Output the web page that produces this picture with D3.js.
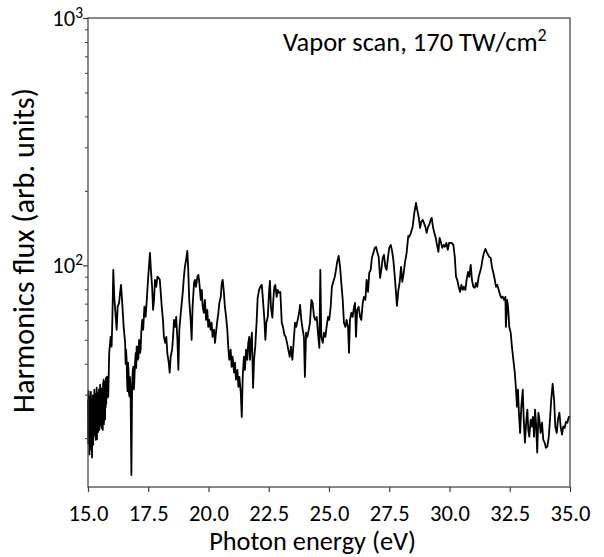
<!DOCTYPE html>
<html>
<head>
<meta charset="utf-8">
<script src="https://cdn.jsdelivr.net/npm/d3@7/dist/d3.min.js"></script>
<style>
  html, body { margin: 0; padding: 0; background: #fff; }
  svg { display: block; }
  text { font-family: Carlito, Lato, "Open Sans", sans-serif; fill: #000; }
</style>
</head>
<body>
<svg id="chart" width="604" height="557"></svg>
<script>
// ---------------- data ----------------
const energy = [
15.000,15.012,15.024,15.036,15.048,15.060,15.072,15.084,15.096,15.108,15.120,15.132,15.144,15.156,15.168,15.180,15.192,15.204,15.216,15.228,
15.240,15.252,15.264,15.276,15.288,15.300,15.312,15.324,15.336,15.348,15.360,15.372,15.384,15.396,15.408,15.420,15.432,15.444,15.456,15.468,
15.480,15.492,15.504,15.516,15.528,15.540,15.552,15.564,15.576,15.588,15.600,15.612,15.624,15.636,15.648,15.660,15.672,15.684,15.696,15.708,
15.720,15.732,15.744,15.756,15.768,15.780,15.790,
15.84,15.88,15.94,15.98,16.01,16.05,16.09,16.15,16.19,16.23,16.29,16.33,16.37,16.42,16.48,
16.54,16.56,16.58,16.60,16.62,16.64,16.66,16.68,16.70,16.72,16.74,16.755,16.77,16.80,16.83,16.85,16.88,16.90,16.92,16.95,
16.98,17.00,17.02,17.04,17.06,17.09,17.12,17.14,17.16,17.185,17.21,
17.25,17.29,17.34,17.39,17.44,17.49,17.53,17.57,
17.61,17.66,17.70,17.74,17.78,17.83,17.88,17.93,17.98,18.02,18.06,18.11,18.15,18.20,18.25,18.29,18.35,18.39,18.43,18.49,
18.53,18.57,18.62,18.66,18.71,18.75,18.79,18.85,18.89,18.93,18.98,19.02,19.07,19.12,19.16,19.20,19.26,19.30,19.34,19.40,
19.44,19.48,19.54,19.58,19.62,19.68,19.72,19.76,19.81,19.85,19.90,19.95,19.99,20.03,20.09,20.13,20.17,20.23,20.27,20.31,
20.37,20.41,20.45,20.51,20.55,20.59,20.64,20.68,20.73,20.78,20.82,20.86,20.92,20.96,21.00,21.06,21.10,21.14,21.20,21.24,
21.28,21.34,21.38,21.42,21.47,21.51,21.56,21.61,21.65,21.69,21.72,21.76,21.80,21.85,21.89,21.94,22.00,22.04,22.10,22.15,
22.21,22.26,22.32,22.36,22.40,22.46,22.51,22.55,22.59,22.65,22.69,22.73,22.77,22.83,22.87,22.93,22.98,23.04,23.09,23.15,
23.20,23.26,23.31,23.37,23.42,23.48,23.54,23.59,23.64,23.70,23.76,23.80,23.85,23.91,23.96,24.00,24.05,24.10,24.16,24.21,
24.27,24.32,24.38,24.43,24.49,24.54,24.60,24.64,24.68,24.74,24.79,24.85,24.90,24.96,25.01,25.07,25.12,25.18,25.24,25.29,
25.34,25.40,25.46,25.51,25.57,25.62,25.68,25.73,25.79,25.83,25.87,25.93,25.98,26.04,26.08,26.12,26.17,26.23,26.29,26.34,
26.40,26.45,26.51,26.56,26.62,26.67,26.73,26.78,26.84,26.90,26.95,27.00,27.06,27.12,27.17,27.23,27.28,27.34,27.39,27.45,
27.50,27.56,27.61,27.67,27.73,27.78,27.82,27.88,27.93,27.99,28.04,28.10,28.15,28.22,28.29,28.33,28.40,28.47,28.54,28.61,
28.66,28.72,28.78,28.83,28.89,28.94,29.00,29.05,29.11,29.16,29.22,29.26,29.32,29.37,29.43,29.48,29.54,29.59,29.65,29.70,
29.76,29.81,29.87,29.93,29.98,30.03,30.09,30.16,30.22,30.27,30.32,30.38,30.44,30.49,30.55,30.60,30.66,30.71,30.77,30.82,
30.88,30.93,30.99,31.05,31.10,31.15,31.21,31.27,31.32,31.38,31.43,31.49,31.54,31.60,31.65,31.71,31.76,31.82,31.88,31.93,
31.98,32.04,32.10,32.15,32.21,32.26,32.32,32.34,32.39,32.43,32.48,32.54,32.59,32.65,32.71,32.76,32.80,32.84,32.88,32.93,
32.98,33.04,33.08,33.13,33.19,33.23,33.27,33.31,33.37,33.42,33.46,33.51,33.55,33.59,33.64,33.69,33.73,33.78,33.84,33.89,
33.95,34.00,34.06,34.12,34.17,34.22,34.28,34.34,34.39,34.45,34.50,34.56,34.61,34.67,34.72,34.78,34.83,34.89,34.95,35.00
];
const flux = [
28.6,19.0,31.0,21.5,27.0,17.2,29.5,20.0,26.1,18.0,30.8,22.0,29.0,19.5,16.7,27.5,21.0,29.8,18.8,26.5,
29.1,21.6,31.4,20.5,28.0,22.7,30.2,19.7,27.3,23.0,32.0,19.8,30.5,23.8,28.6,21.2,30.0,24.0,31.5,21.6,
29.0,24.9,32.9,22.5,30.0,23.8,31.8,22.0,29.5,25.0,30.8,21.6,33.5,24.0,34.5,22.8,31.0,25.5,33.8,23.8,
32.9,26.6,35.1,27.5,34.0,29.0,35.5,
29.4,44.3,51.4,46.9,60.2,95.9,74.6,61.9,54.9,68.0,70.5,77.4,83.4,70.5,56.4,
48.6,40.0,45.6,42.0,34.5,31.0,40.4,38.0,30.5,29.5,35.4,33.0,28.6,14.2,32.3,36.5,38.9,31.5,33.5,40.0,
44.3,38.5,46.9,47.0,41.5,42.0,50.0,47.5,44.3,46.0,53.4,
60.2,54.9,68.0,61.9,72.5,87.4,98.6,112.3,
95.9,81.9,66.1,72.5,87.4,81.9,89.9,89.0,87.4,77.4,68.0,60.2,51.4,48.6,51.4,44.3,40.4,36.8,42.7,45.6,
51.4,60.2,56.4,61.9,50.0,37.8,54.9,64.3,70.5,77.4,89.9,98.6,105.2,114.4,95.9,72.5,60.2,50.0,68.0,85.0,
87.4,81.9,89.9,91.5,85.0,72.5,79.6,68.0,64.3,72.5,60.2,66.1,56.4,60.2,54.9,58.6,51.4,54.9,48.6,53.4,
60.2,64.3,70.5,74.6,85.0,87.4,77.4,68.0,61.9,54.9,46.9,41.5,45.6,38.9,42.7,36.8,40.4,34.5,37.8,32.3,
35.4,30.5,24.4,35.4,42.7,37.8,45.6,41.5,48.6,51.4,41.5,48.6,53.4,32.0,41.5,46.9,60.2,73.9,79.6,81.9,
83.4,72.5,60.2,50.0,58.6,61.9,77.4,86.6,68.0,61.4,72.5,81.9,83.4,74.6,79.6,77.4,78.1,58.6,56.4,52.4,
51.4,48.6,45.6,42.7,46.9,41.5,50.0,58.6,56.4,60.2,64.3,69.2,60.2,54.9,51.4,35.4,53.4,51.4,54.9,58.6,
72.5,70.5,61.9,60.2,61.9,53.4,46.4,95.9,51.4,48.6,53.4,51.4,56.4,61.9,60.2,68.0,81.9,85.8,89.9,95.9,
103.3,109.2,98.6,85.0,72.5,58.6,56.4,60.2,56.4,44.3,60.2,64.3,61.9,68.0,70.5,51.4,66.1,68.0,61.9,60.2,
70.5,74.6,72.5,87.4,78.1,93.3,95.9,107.2,112.3,117.7,118.8,113.4,108.2,89.0,95.9,107.2,110.3,98.6,95.9,108.2,
117.7,121.0,115.5,105.2,89.9,77.4,68.6,79.6,85.0,98.6,85.8,93.3,102.3,112.3,131.6,130.4,135.3,143.1,163.0,178.9,
167.6,157.0,141.8,149.9,152.7,148.5,143.1,135.3,143.1,145.8,152.7,155.6,141.8,135.3,129.1,121.0,113.4,129.1,123.3,117.7,
121.0,118.8,123.3,115.5,123.3,123.3,123.3,121.0,108.2,89.9,87.4,81.9,78.1,83.4,79.6,81.9,79.6,87.4,94.1,89.9,
100.5,87.4,81.9,81.1,85.0,81.9,89.9,94.1,98.6,107.2,112.3,116.6,113.4,110.3,108.2,107.2,98.6,93.3,87.4,81.9,
83.4,79.6,76.0,73.9,74.6,72.5,74.6,56.4,72.5,68.0,56.4,53.4,46.9,41.5,36.8,31.4,26.8,31.4,25.4,21.0,
26.8,31.4,23.8,19.2,23.8,26.1,21.6,20.3,23.8,22.3,24.4,20.3,26.1,23.1,17.5,25.4,23.8,21.0,23.1,19.7,
19.2,18.3,18.5,20.3,23.8,28.6,33.2,28.6,22.3,21.0,23.8,25.4,22.3,20.7,22.3,22.0,23.3,23.1,24.4,24.2
];
const xTicks = [15, 17.5, 20, 22.5, 25, 27.5, 30, 32.5, 35];
const yMajor = [100, 1000];
const yMajorExp = ["2", "3"];
const yMinor = [20, 30, 40, 50, 60, 70, 80, 90, 200, 300, 400, 500, 600, 700, 800, 900];
const xTitle = "Photon energy (eV)";
const yTitle = "Harmonics flux (arb. units)";
const noteMain = "Vapor scan, 170 TW/cm";
const noteSup = "2";

// ---------------- layout ----------------
const L = 88, R = 570, T = 18, B = 487;
const svg = d3.select("#chart");

const x = d3.scaleLinear().domain([15, 35]).range([L, R]);
const y = d3.scaleLog().domain([12.7, 1000]).range([B, T]);

function fit(sel, target, base) {
  sel.style("font-size", base + "px");
  const w = sel.node().getComputedTextLength();
  const s = base * target / w;
  sel.style("font-size", s + "px");
  return s;
}

// data line
const pts = energy.map((e, i) => [e, flux[i]]);
const line = d3.line().x(d => x(d[0])).y(d => y(d[1]));
svg.append("path")
  .datum(pts)
  .attr("d", line)
  .attr("fill", "none")
  .attr("stroke", "#000")
  .attr("stroke-width", 1.8)
  .attr("stroke-linejoin", "round");

// frame
svg.append("rect")
  .attr("x", L).attr("y", T).attr("width", R - L).attr("height", B - T)
  .attr("fill", "none").attr("stroke", "#3a3a3a").attr("stroke-width", 1.2);

// x axis
const xAxis = svg.append("g")
  .attr("transform", `translate(0,${B})`)
  .call(d3.axisBottom(x).tickValues(xTicks).tickFormat(d3.format(".1f")).tickSize(5).tickSizeOuter(0));
xAxis.select(".domain").remove();
xAxis.selectAll(".tick line").attr("stroke", "#3a3a3a").attr("stroke-width", 1.2);
const xt = xAxis.selectAll(".tick text").attr("y", 34).attr("dy", 0).attr("fill", "#000");
const xs = fit(d3.select(xt.nodes()[0]), 40, 20);
xt.style("font-size", xs + "px");

// y axis minor ticks
const yMin = svg.append("g")
  .attr("transform", `translate(${L},0)`)
  .call(d3.axisLeft(y).tickValues(yMinor).tickFormat("").tickSize(3).tickSizeOuter(0));
yMin.select(".domain").remove();
yMin.selectAll(".tick line").attr("stroke", "#3a3a3a").attr("stroke-width", 1);

// y axis major ticks
const yMaj = svg.append("g")
  .attr("transform", `translate(${L},0)`)
  .call(d3.axisLeft(y).tickValues(yMajor).tickFormat("").tickSize(5).tickSizeOuter(0));
yMaj.select(".domain").remove();
yMaj.selectAll(".tick line").attr("stroke", "#3a3a3a").attr("stroke-width", 1.2);

yMajor.forEach((v, i) => {
  const t = svg.append("text")
    .attr("x", 83).attr("y", y(v) + 7.5)
    .attr("text-anchor", "end")
    .style("font-size", xs + "px");
  t.append("tspan").text("10");
  t.append("tspan").text(yMajorExp[i]).attr("dy", -8).style("font-size", (xs * 0.68) + "px");
});

// x title
const xtT = svg.append("text")
  .attr("x", 312.6).attr("y", 550)
  .attr("text-anchor", "middle")
  .text(xTitle);
fit(xtT, 207, 20);

// y title
const ytT = svg.append("text")
  .attr("transform", "translate(33.5,250.5) rotate(-90)")
  .attr("text-anchor", "middle")
  .text(yTitle);
fit(ytT, 325, 20);

// annotation
const note = svg.append("text")
  .attr("x", 283).attr("y", 51)
  .attr("text-anchor", "start");
note.append("tspan").text(noteMain);
const sup = note.append("tspan").text(noteSup).attr("dy", -8);
note.style("font-size", "20px");
sup.style("font-size", "14px");
const nw = note.node().getComputedTextLength();
const ns = 20 * 264 / nw;
note.style("font-size", ns + "px");
sup.style("font-size", (ns * 0.68) + "px").attr("dy", -ns * 0.38);
</script>
</body>
</html>
